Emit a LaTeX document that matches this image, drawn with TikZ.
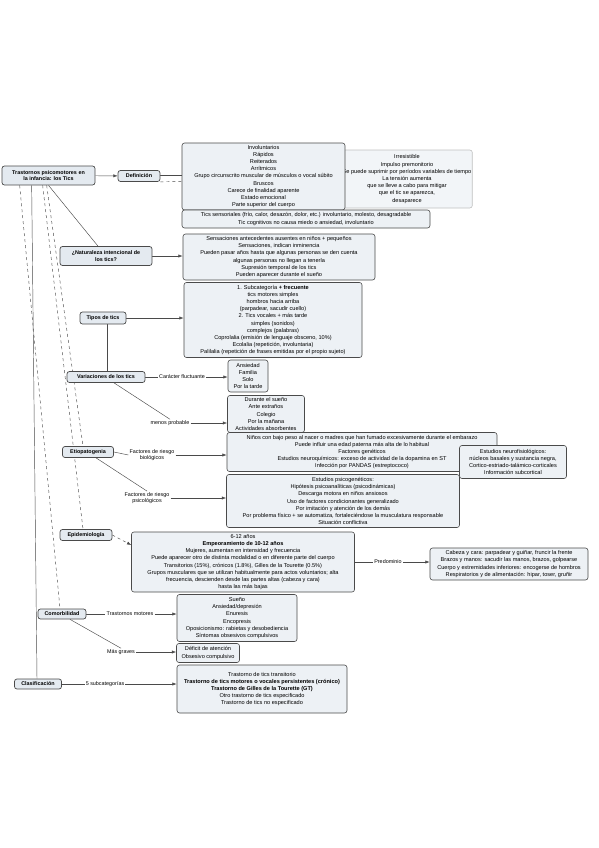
\documentclass[tikz,border=0pt]{standalone}
\usepackage{fontspec}
\setmainfont{Liberation Sans}
\usepackage{xcolor}
\usepackage{tikz}
\usetikzlibrary{arrows.meta,backgrounds}

\definecolor{boxfill}{HTML}{EDF1F5}
\definecolor{topicfill}{HTML}{E4EAF0}
\definecolor{edgec}{HTML}{4A4A4A}

\begin{document}
\begin{tikzpicture}[
  x=1pt,
  y=-1pt,
  font=\fontsize{5.6}{7.2}\selectfont,
  box/.style={
    rectangle,
    draw=edgec,
    fill=boxfill,
    rounded corners=2.5pt,
    line width=0.6pt,
    align=center,
    inner sep=1pt
  },
  topic/.style={
    box,
    fill=topicfill,
    font=\fontsize{5.4}{6.6}\selectfont\bfseries,
    line width=0.7pt
  },
  lbl/.style={
    align=center,
    inner sep=1pt,
    font=\fontsize{5.4}{6.4}\selectfont
  },
  link/.style={
    draw=edgec,
    line width=0.45pt
  },
  arr/.style={
    link,
    -{Latex[length=1.5mm,width=1.1mm]}
  }
]
\useasboundingbox (0,0) rectangle (599,848);

% main topics
\node[topic, minimum width=93pt, minimum height=19pt] (root) at (48.5,175.5)
{Trastornos psicomotores en\\la infancia: los Tics};
\node[topic, minimum width=42pt, minimum height=11pt] (defn) at (139,176) {Definición};
\node[topic, minimum width=92pt, minimum height=19pt] (nat) at (106,256)
{¿Naturaleza intencional de\\los tics?};
\node[topic, minimum width=46pt, minimum height=12pt] (tipos) at (103,318) {Tipos de tics};
\node[topic, minimum width=78pt, minimum height=11pt] (var) at (106,377) {Variaciones de los tics};
\node[topic, minimum width=51pt, minimum height=11pt] (etio) at (88,452) {Etiopatogenia};
\node[topic, minimum width=52pt, minimum height=11pt] (epid) at (86,535) {Epidemiología};
\node[topic, minimum width=48pt, minimum height=10pt] (comorb) at (62,614) {Comorbilidad};
\node[topic, minimum width=47pt, minimum height=10pt] (clasif) at (38,684) {Clasificación};

% definicion
\node[box, minimum width=124pt, minimum height=58pt, draw=edgec!35, fill=boxfill!70] (defirr) at (407,179)
{Irresistible\\Impulso premonitorio\\Se puede suprimir por períodos variables de tiempo\\La tensión aumenta\\que se lleve a cabo para mitigar\\que el tic se aparezca,\\desaparece};
\node[box, minimum width=163pt, minimum height=67pt] (defrasgos) at (263.5,176.5)
{Involuntarios\\Rápidos\\Reiterados\\Arrítmicos\\Grupo circunscrito muscular de músculos o vocal súbito\\Bruscos\\Carece de finalidad aparente\\Estado emocional\\Parte superior del cuerpo};
\node[box, minimum width=248pt, minimum height=18pt, inner sep=0.5pt] (defsens) at (306,219)
{Tics sensoriales (frío, calor, desazón, dolor, etc.) involuntario, molesto, desagradable\\Tic cognitivos no causa miedo o ansiedad, involuntario};

% naturaleza y tipos
\node[box, minimum width=192pt, minimum height=46pt] (natbox) at (279,257)
{Sensaciones antecedentes ausentes en niños + pequeños\\Sensaciones, indican inminencia\\Pueden pasar años hasta que algunas personas se den cuenta\\algunas personas no llegan a tenerla\\Supresión temporal de los tics\\Pueden aparecer durante el sueño};
\node[box, minimum width=178pt, minimum height=75pt] (tiposbox) at (273,320)
{1. Subcategoría \textbf{+ frecuente}\\tics motores simples\\hombros hacia arriba\\(parpadear, sacudir cuello)\\2. Tics vocales + más tarde\\simples (sonidos)\\complejos (palabras)\\Coprolalia (emisión de lenguaje obsceno, 10\%)\\Ecolalia (repetición, involuntaria)\\Palilalia (repetición de frases emitidas por el propio sujeto)};

% variaciones
\node[lbl] (lblfluct) at (182,377) {Carácter fluctuante};
\node[box, minimum width=40pt, minimum height=32pt] (fluct) at (248,376)
{Ansiedad\\Familia\\Solo\\Por la tarde};
\node[lbl] (lblmenos) at (170,423) {menos probable};
\node[box, minimum width=77pt, minimum height=37pt] (menos) at (266,414)
{Durante el sueño\\Ante extraños\\Colegio\\Por la mañana\\Actividades absorbentes};

% etiopatogenia
\node[lbl] (lblbio) at (152,455) {Factores de riesgo\\biológicos};
\node[box, minimum width=270pt, minimum height=39pt] (bio) at (362,452)
{Niños con bajo peso al nacer o madres que han fumado excesivamente durante el embarazo\\Puede influir una edad paterna más alta de lo habitual\\Factores genéticos\\Estudios neuroquímicos: exceso de actividad de la dopamina en ST\\Infección por PANDAS (estreptococo)};
\node[box, minimum width=107pt, minimum height=33pt] (neuro) at (513,462)
{Estudios neurofisiológicos:\\núcleos basales y sustancia negra,\\Cortico-estriado-talámico-corticales\\Información subcortical};
\node[lbl] (lblpsico) at (147,498) {Factores de riesgo\\psicológicos};
\node[box, minimum width=233pt, minimum height=53pt] (psico) at (343,501)
{Estudios psicogenéticos:\\Hipótesis psicoanalíticas (psicodinámicas)\\Descarga motora en niños ansiosos\\Uso de factores condicionantes generalizado\\Por imitación y atención de los demás\\Por problema físico + se automatiza, fortaleciéndose la musculatura responsable\\Situación conflictiva};

% epidemiologia
\node[box, minimum width=223pt, minimum height=60pt] (epidbox) at (243,562)
{6-12 años\\\textbf{Empeoramiento de 10-12 años}\\Mujeres, aumentan en intensidad y frecuencia\\Puede aparecer otro de distinta modalidad o en diferente parte del cuerpo\\Transitorios (15\%), crónicos (1.8\%), Gilles de la Tourette (0.5\%)\\Grupos musculares que se utilizan habitualmente para actos voluntarios; alta\\frecuencia, descienden desde las partes altas (cabeza y cara)\\hasta las más bajas};
\node[lbl] (lblpred) at (388,562) {Predominio};
\node[box, minimum width=158pt, minimum height=32pt] (cuerpo) at (509,564)
{Cabeza y cara: parpadear y guiñar, fruncir la frente\\Brazos y manos: sacudir las manos, brazos, golpearse\\Cuerpo y extremidades inferiores: encogerse de hombros\\Respiratorios y de alimentación: hipar, toser, gruñir};

% comorbilidad
\node[lbl] (lblmot) at (130,614) {Trastornos motores};
\node[box, minimum width=120pt, minimum height=47pt] (motores) at (237,618)
{Sueño\\Ansiedad/depresión\\Enuresis\\Encopresis\\Oposicionismo: rabietas y desobediencia\\Síntomas obsesivos compulsivos};
\node[lbl] (lblgraves) at (121,652) {Más graves};
\node[box, minimum width=63pt, minimum height=19pt] (graves) at (208,653)
{Déficit de atención\\Obsesivo compulsivo};

% clasificacion
\node[lbl] (lblsub) at (105,684) {5 subcategorías};
\node[box, minimum width=170pt, minimum height=48pt] (clasifbox) at (262,689)
{Trastorno de tics transitorio\\\textbf{Trastorno de tics motores o vocales persistentes (crónico)}\\\textbf{Trastorno de Gilles de la Tourette (GT)}\\Otro trastorno de tics especificado\\Trastorno de tics no especificado};

\begin{scope}[on background layer]
\draw[arr] (root) -- (defn);
\draw[link, double, double distance=1pt] (defn.east) -- (defn.east -| defrasgos.west);
\draw[link, dashed] (defn.south east) -- (defirr.west);
\draw[link] (root.south) -- ([xshift=-8pt]nat.north);
\draw[link, dashed] ([xshift=45pt]root.south west) -- ([xshift=-5pt]etio.north);
\draw[link, dashed] ([xshift=41pt]root.south west) -- ([xshift=-3pt]epid.north);
\draw[link, dashed] ([xshift=18pt]root.south west) -- ([xshift=-2pt]comorb.north);
\draw[link] ([xshift=30pt]root.south west) -- ([xshift=-1pt]clasif.north);
\draw[arr] (nat.east) -- (nat.east -| natbox.west);
\draw[link, double, double distance=1.2pt] (tipos.north |- nat.south) -- (tipos.north);
\draw[arr] (tipos.east) -- (tipos.east -| tiposbox.west);
\draw[link] ([xshift=4pt]tipos.south) -- ([xshift=4pt]tipos.south |- var.north);
\draw[link] (var) -- (lblfluct);
\draw[arr] (lblfluct.east) -- (lblfluct.east -| fluct.west);
\draw[link] ([xshift=8pt]var.south) -- (lblmenos.north);
\draw[arr] (lblmenos.east) -- (lblmenos.east -| menos.west);
\draw[link] (etio.east) -- (lblbio.west);
\draw[arr] (lblbio.east) -- (lblbio.east -| bio.west);
\draw[link] ([xshift=8pt]etio.south) -- (lblpsico.north);
\draw[arr] (lblpsico.east) -- (lblpsico.east -| psico.west);
\draw[arr, dashed] (epid.east) -- ([yshift=17pt]epidbox.west);
\draw[link] (epidbox.east |- lblpred) -- (lblpred.west);
\draw[arr] (lblpred.east) -- (lblpred.east -| cuerpo.west);
\draw[link] (comorb.east) -- (lblmot.west);
\draw[arr] (lblmot.east) -- (lblmot.east -| motores.west);
\draw[link] ([xshift=8pt]comorb.south) -- (lblgraves.north);
\draw[arr] (lblgraves.east) -- (lblgraves.east -| graves.west);
\draw[link] (clasif.east) -- (lblsub.west);
\draw[arr] (lblsub.east) -- (lblsub.east -| clasifbox.west);
\end{scope}
\end{tikzpicture}
\end{document}
